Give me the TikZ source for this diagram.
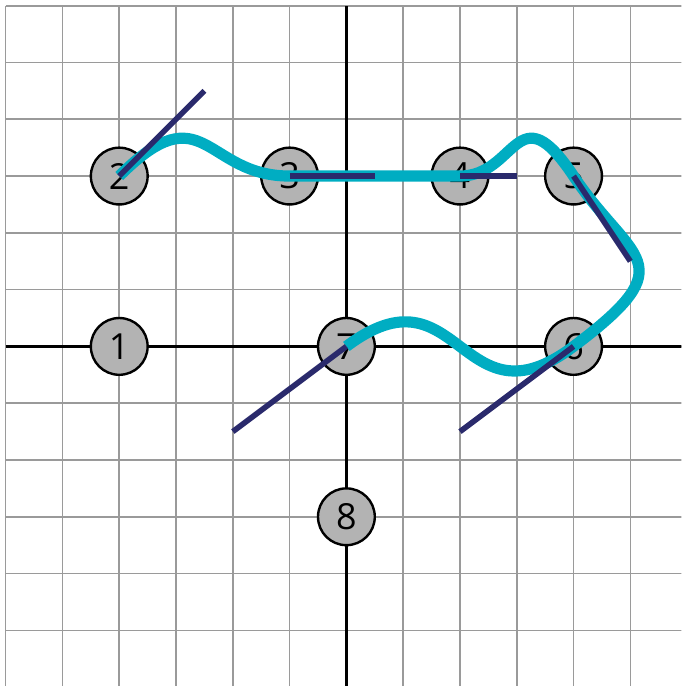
\documentclass[tikz,border=0pt]{standalone}
\usepackage{fontspec}
\newfontfamily\lblfont{Open Sans}
\usetikzlibrary{calc}

\definecolor{ptgray}{HTML}{B3B3B3}
\definecolor{gridgray}{HTML}{9A9A9A}
\definecolor{curvecyan}{HTML}{00ADC2}
\definecolor{tannavy}{HTML}{2A2A6C}

\begin{document}
\begin{tikzpicture}[
  every node/.style={font=\lblfont\fontsize{18}{18}\selectfont},
  pt/.style={circle,draw,line width=1.2pt,fill=ptgray,minimum size=1cm,inner sep=0pt},
  gridline/.style={draw=gridgray,line width=0.8pt},
  axis/.style={line width=1.2pt},
  spline/.style={draw=curvecyan,line width=5.6pt},
  tan/.style={draw=tannavy,line width=2.8pt}
]
\useasboundingbox (-6.1,-5.98) rectangle (5.9,6.1);
\clip (-6.1,-5.98) rectangle (5.9,6.1);

% grid and axes
\draw[gridline] (-6,-7) grid (7,6);
\draw[axis] (-6,0) -- (6.2,0);
\draw[axis] (0,-6.2) -- (0,6);

% points
\node[pt] (n1) at (-4,0) {1};
\node[pt] (n2) at (-4,3) {2};
\node[pt] (n3) at (-1,3) {3};
\node[pt] (n4) at (2,3) {4};
\node[pt] (n5) at (4,3) {5};
\node[pt] (n6) at (4,0) {6};
\node[pt] (n7) at (0,0) {7};
\node[pt] (n8) at (0,-3) {8};

% tangent ends
\coordinate (t2) at (-2.5,4.5);
\coordinate (t3) at (0.5,3);
\coordinate (t4) at (3,3);
\coordinate (t5) at (5,1.5);
\coordinate (t6) at (2,-1.5);
\coordinate (t7) at (-2,-1.5);

% curve through the points
\draw[spline] (n2.center)
  .. controls (t2) and ($(n3)!-1!(t3)$) .. (n3.center)
  .. controls (t3) and ($(n4)!-1!(t4)$) .. (n4.center)
  .. controls (t4) and ($(n5)!-1!(t5)$) .. (n5.center)
  .. controls (t5) and ($(n6)!-1!(t6)$) .. (n6.center)
  .. controls (t6) and ($(n7)!-1!(t7)$) .. (n7.center);

% tangents
\foreach \i in {2,...,7}
  \draw[tan] (n\i.center) -- (t\i);
\end{tikzpicture}
\end{document}
